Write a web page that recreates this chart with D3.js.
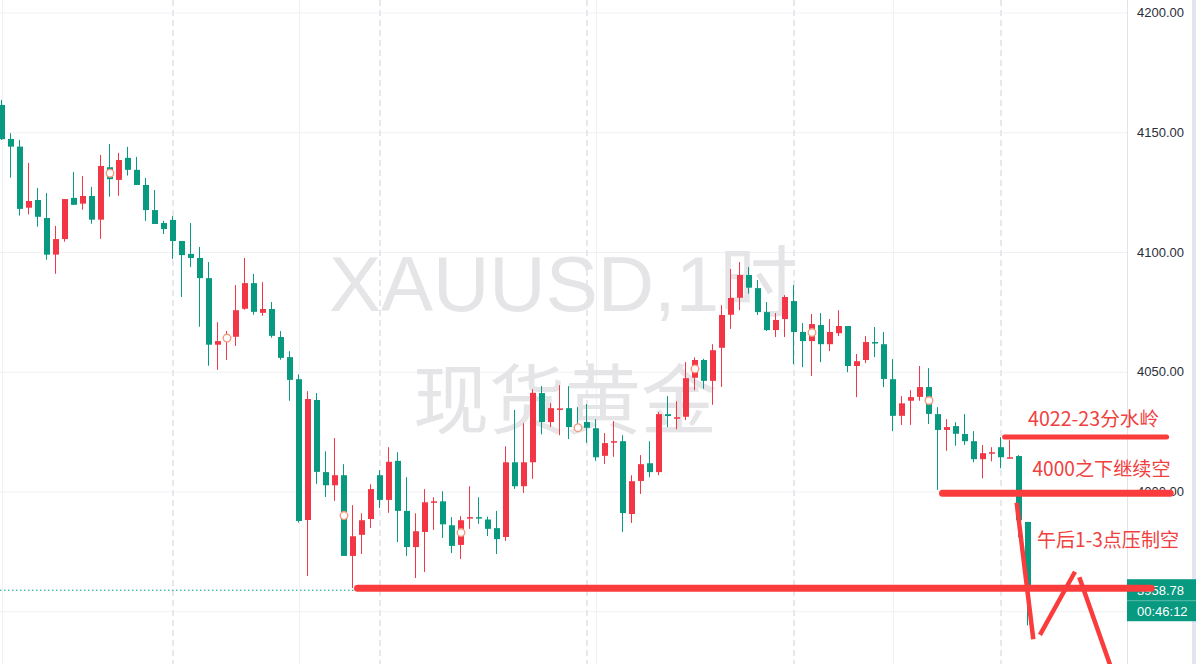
<!DOCTYPE html>
<html>
<head>
<meta charset="utf-8">
<script src="https://cdn.jsdelivr.net/npm/d3@7"></script>
<style>
  html, body { margin: 0; padding: 0; background: #fff; }
  svg { display: block; }
</style>
</head>
<body>
<svg id="chart"></svg>
<script>
const WIDTH = 1196;
const HEIGHT = 664;
const PLOT_RIGHT = 1127;

// XAUUSD 1h candles (oldest first)
const opens = [
  4161.4, 4147.2, 4144.0, 4118.5, 4121.7, 4114.2, 4098.9, 4105.4, 4122.6, 4120.2,
  4123.4, 4113.5, 4135.4, 4130.1, 4139.3, 4134.3, 4128.0, 4117.5, 4112.1, 4113.4,
  4104.6, 4099.2, 4097.5, 4089.1, 4061.3, 4062.8, 4064.6, 4076.3, 4087.0, 4074.6,
  4076.2, 4064.5, 4056.1, 4046.9, 3988.1, 4038.2, 4008.1, 4002.6, 4006.8, 3973.1,
  3981.9, 3988.5, 4006.8, 3996.5, 4012.8, 3991.9, 3976.8, 3983.1, 3995.5, 3995.9,
  3985.9, 3977.7, 3988.9, 3989.3, 3988.3, 3984.7, 3981.0, 4012.2, 4002.2, 4012.2,
  4041.1, 4029.0, 4034.4, 4034.8, 4027.7, 4029.0, 4026.4, 4014.9, 4020.7, 4021.0,
  3990.6, 4004.4, 4011.8, 4008.1, 4032.3, 4030.6, 4031.2, 4047.5, 4054.9, 4046.2,
  4060.0, 4073.8, 4080.9, 4090.4, 4084.9, 4074.9, 4067.4, 4072.0, 4079.5, 4066.6,
  4062.8, 4069.5, 4061.5, 4066.1, 4069.1, 4052.4, 4054.9, 4062.4, 4061.5, 4046.9,
  4031.6, 4037.9, 4039.5, 4043.6, 4032.3, 4025.7, 4027.3, 4024.0, 4021.0, 4013.5,
  4016.1, 4018.5, 4014.1, 4014.8, 3987.3
];
const highs = [
  4163.5, 4149.6, 4146.8, 4137.2, 4126.7, 4124.6, 4110.9, 4122.1, 4133.4, 4131.7,
  4127.2, 4140.5, 4145.1, 4141.4, 4143.9, 4139.7, 4130.9, 4125.9, 4113.0, 4115.0,
  4104.6, 4112.1, 4102.1, 4095.8, 4070.7, 4067.0, 4086.2, 4097.5, 4090.8, 4087.4,
  4079.1, 4067.0, 4058.6, 4048.9, 4041.9, 4041.1, 4016.8, 4022.3, 4011.4, 3994.3,
  3990.9, 4003.0, 4008.9, 4018.5, 4016.4, 4006.0, 3990.9, 4001.0, 3997.6, 4000.1,
  3989.3, 3989.7, 4002.2, 3997.6, 3989.5, 3991.9, 4018.9, 4034.0, 4028.5, 4042.7,
  4044.0, 4036.9, 4044.4, 4044.0, 4035.2, 4036.5, 4030.2, 4024.4, 4029.4, 4023.5,
  4006.8, 4015.2, 4021.0, 4033.1, 4039.8, 4037.7, 4054.0, 4056.0, 4055.4, 4061.5,
  4077.8, 4092.9, 4095.8, 4093.7, 4088.3, 4079.1, 4074.5, 4082.0, 4086.2, 4070.3,
  4074.1, 4074.5, 4072.0, 4075.7, 4069.1, 4057.4, 4064.9, 4068.7, 4066.6, 4055.3,
  4039.8, 4042.3, 4052.4, 4051.5, 4035.2, 4030.2, 4028.9, 4032.3, 4025.2, 4019.4,
  4018.5, 4022.7, 4021.4, 4015.2, 3987.3
];
const lows = [
  4146.8, 4131.0, 4115.2, 4115.7, 4110.6, 4096.8, 4090.9, 4104.3, 4119.7, 4117.7,
  4111.8, 4105.5, 4123.1, 4123.5, 4131.9, 4128.0, 4113.0, 4111.7, 4107.5, 4097.1,
  4081.2, 4093.7, 4068.8, 4052.5, 4050.8, 4054.9, 4060.8, 4075.9, 4073.8, 4073.4,
  4064.2, 4055.0, 4037.9, 3987.0, 3964.7, 4003.2, 3997.7, 3996.1, 3973.1, 3959.7,
  3973.9, 3984.8, 3993.1, 3991.1, 3978.9, 3973.1, 3963.9, 3966.4, 3984.0, 3980.6,
  3974.3, 3971.8, 3984.4, 3986.5, 3981.4, 3973.9, 3979.4, 4001.1, 3999.4, 4005.3,
  4023.9, 4026.9, 4023.5, 4021.9, 4024.8, 4020.3, 4012.8, 4011.5, 4014.5, 3983.1,
  3986.9, 3999.0, 4006.0, 4006.8, 4026.9, 4026.0, 4029.8, 4042.3, 4042.9, 4036.2,
  4043.7, 4067.9, 4075.7, 4082.6, 4073.7, 4067.0, 4064.5, 4064.5, 4053.2, 4051.9,
  4048.2, 4054.0, 4058.6, 4064.9, 4049.8, 4039.4, 4053.6, 4056.1, 4043.6, 4025.2,
  4027.8, 4027.8, 4037.9, 4028.2, 4000.7, 4017.0, 4019.1, 4019.5, 4012.2, 4005.5,
  4012.6, 4009.7, 4013.9, 3980.9, 3944.1
];
const closes = [
  4147.1, 4144.0, 4118.0, 4121.3, 4114.7, 4098.9, 4105.4, 4122.1, 4119.7, 4123.4,
  4113.5, 4135.9, 4130.4, 4138.4, 4134.3, 4128.0, 4117.5, 4111.7, 4109.6, 4104.6,
  4098.7, 4097.5, 4089.1, 4061.3, 4062.8, 4065.3, 4075.7, 4087.0, 4075.0, 4076.2,
  4065.0, 4055.8, 4046.6, 3987.7, 4038.6, 4008.2, 4002.6, 4006.8, 3973.1, 3981.3,
  3988.0, 4001.0, 3996.5, 4012.4, 3991.9, 3976.8, 3983.4, 3995.5, 3995.9, 3986.3,
  3977.3, 3988.0, 3989.3, 3988.9, 3984.4, 3980.1, 4012.2, 4002.2, 4012.2, 4041.2,
  4029.0, 4034.8, 4034.7, 4026.9, 4025.6, 4026.6, 4014.3, 4020.2, 4021.0, 3991.0,
  4004.3, 4011.4, 4008.1, 4032.3, 4031.5, 4031.0, 4047.3, 4054.9, 4046.2, 4059.0,
  4073.7, 4080.8, 4090.4, 4085.1, 4074.9, 4067.4, 4071.6, 4081.2, 4066.6, 4062.8,
  4069.9, 4061.5, 4066.6, 4069.1, 4052.4, 4054.4, 4062.4, 4061.8, 4047.0, 4031.6,
  4036.8, 4039.4, 4043.6, 4032.4, 4025.7, 4026.9, 4024.1, 4021.0, 4013.5, 4016.0,
  4016.4, 4014.3, 4014.3, 3988.0, 3958.78
];

const gridTicks = [3950, 4000, 4050, 4100, 4150, 4200];
const labelTicks = [4000, 4050, 4100, 4150, 4200]; // 3950 sits under the badge
const gridIdx = [0, 33, 66, 99];          // plain vertical grid lines
const dayIdx = [19, 42, 65, 88, 111];     // dashed session breaks
const markerIdx = [12, 25, 38, 51, 64, 77, 90, 103];
const lastPrice = 3958.78;
const countdown = "00:46:12";
const watermark = ["XAUUSD,1时", "现货黄金"];

// hand drawn notes, in candle index / price units
const levelLines = [
  { from: 39.5, to: 127.7, price: 3959.6, w: 7 },
  { from: 111.4, to: 129.4, price: 4022.8, w: 5 },
  { from: 104.5, to: 129.8, price: 3999.25, w: 7 }
];
const strokes = [
  [[112.74, 3995.3], [114.59, 3938.3]],
  [[115.33, 3940.1], [119.22, 3966.5]],
  [[119.7, 3964.2], [123.4, 3924.6]]
];
const notes = [
  { text: "4022-23分水岭", i: 114.0, price: 4027.3, len: 131 },
  { text: "4000之下继续空", i: 114.5, price: 4006.3, len: 138 },
  { text: "午后1-3点压制空", i: 115.0, price: 3976.9, len: 142 }
];

const UP = "#f23645";
const DOWN = "#089981";
const INK = "#fa3c3c";

const svg = d3.select("#chart").attr("width", WIDTH).attr("height", HEIGHT);

const x = d3.scaleLinear().domain([0, 114]).range([2, 1028]);
const y = d3.scaleLinear().domain([4000, 4200]).range([491.5, 12.5]);

const candles = opens.map((o, i) => ({
  i: i, o: o, h: highs[i], l: lows[i], c: closes[i]
}));

svg.append("rect").attr("width", WIDTH).attr("height", HEIGHT).attr("fill", "#fff");

// horizontal grid
svg
  .append("g")
  .call(d3.axisRight(y).tickValues(gridTicks).tickSize(PLOT_RIGHT).tickFormat(""))
  .call((g) => g.select(".domain").remove())
  .call((g) => g.selectAll("line").attr("stroke", "#f0f1f4"));

svg
  .append("g")
  .selectAll("line")
  .data(gridIdx)
  .join("line")
  .attr("x1", (d) => x(d) + 0.5)
  .attr("x2", (d) => x(d) + 0.5)
  .attr("y1", 0)
  .attr("y2", HEIGHT)
  .attr("stroke", "#f0f1f4");

svg
  .append("g")
  .selectAll("line")
  .data(dayIdx)
  .join("line")
  .attr("x1", (d) => x(d))
  .attr("x2", (d) => x(d))
  .attr("y1", 0)
  .attr("y2", HEIGHT)
  .attr("stroke", "#e6e8ed")
  .attr("stroke-width", 2)
  .attr("stroke-dasharray", "6,4");

// watermark
const wm = svg
  .append("g")
  .attr("fill", "#e5e5e8")
  .attr("text-anchor", "middle")
  .attr("font-family", "'Liberation Sans', 'Noto Sans CJK SC', sans-serif");
wm.append("text").attr("x", 563).attr("y", 311).attr("font-size", 78).text(watermark[0]);
wm.append("text")
  .attr("x", 565)
  .attr("y", 401)
  .attr("dy", "0.35em")
  .attr("font-size", 76)
  .attr("font-family", "'Noto Sans CJK SC', sans-serif")
  .text(watermark[1]);

// last price dotted line
svg
  .append("line")
  .attr("x1", 0)
  .attr("x2", PLOT_RIGHT)
  .attr("y1", y(lastPrice))
  .attr("y2", y(lastPrice))
  .attr("stroke", DOWN)
  .attr("stroke-dasharray", "1.5,2.5");

// candles
const cg = svg.append("g");
cg.selectAll("rect.wick")
  .data(candles)
  .join("rect")
  .attr("class", "wick")
  .attr("x", (d) => x(d.i) - 1)
  .attr("width", 1)
  .attr("y", (d) => y(d.h))
  .attr("height", (d) => Math.max(1, y(d.l) - y(d.h)))
  .attr("fill", (d) => (d.c >= d.o ? UP : DOWN));

cg.selectAll("rect.body")
  .data(candles)
  .join("rect")
  .attr("class", "body")
  .attr("x", (d) => x(d.i) - 3)
  .attr("width", 6)
  .attr("y", (d) => y(Math.max(d.o, d.c)))
  .attr("height", (d) => Math.max(1.5, Math.abs(y(d.o) - y(d.c))))
  .attr("fill", (d) => (d.c >= d.o ? UP : DOWN));

// little round markers
svg
  .append("g")
  .selectAll("circle")
  .data(markerIdx)
  .join("circle")
  .attr("cx", (d) => x(d))
  .attr("cy", (d) => y((opens[d] + closes[d]) / 2))
  .attr("r", 3.8)
  .attr("fill", "#fff")
  .attr("stroke", "#f59a7c")
  .attr("stroke-width", 1.4);

// price scale
svg
  .append("rect")
  .attr("x", PLOT_RIGHT)
  .attr("width", WIDTH - PLOT_RIGHT)
  .attr("height", HEIGHT)
  .attr("fill", "#fff");
svg
  .append("line")
  .attr("x1", PLOT_RIGHT + 0.5)
  .attr("x2", PLOT_RIGHT + 0.5)
  .attr("y1", 0)
  .attr("y2", HEIGHT)
  .attr("stroke", "#e0e3eb");
svg
  .append("rect")
  .attr("x", 1192)
  .attr("width", 4)
  .attr("height", HEIGHT)
  .attr("fill", "#e3e5ee");

svg
  .append("g")
  .attr("transform", `translate(${PLOT_RIGHT},0)`)
  .call(
    d3.axisRight(y).tickValues(labelTicks).tickSize(0).tickPadding(10)
      .tickFormat(d3.format(".2f"))
  )
  .call((g) => g.select(".domain").remove())
  .call((g) =>
    g.selectAll("text")
      .attr("fill", "#2a2e39")
      .attr("font-size", 13)
      .attr("font-family", "'Liberation Sans', Arial, sans-serif")
  );

// last price badge
const badgeY = y(lastPrice);
const badge = svg.append("g");
badge
  .append("rect")
  .attr("x", PLOT_RIGHT)
  .attr("y", badgeY - 11)
  .attr("width", WIDTH - PLOT_RIGHT)
  .attr("height", 42)
  .attr("fill", DOWN);
badge
  .append("line")
  .attr("x1", PLOT_RIGHT)
  .attr("x2", WIDTH)
  .attr("y1", badgeY + 10.5)
  .attr("y2", badgeY + 10.5)
  .attr("stroke", "rgba(255,255,255,0.35)");
badge
  .selectAll("text")
  .data([d3.format(".2f")(lastPrice), countdown])
  .join("text")
  .attr("x", PLOT_RIGHT + 10)
  .attr("y", (d, k) => badgeY + k * 21)
  .attr("dy", "0.35em")
  .attr("fill", "#fff")
  .attr("font-size", 13)
  .attr("font-family", "'Liberation Sans', Arial, sans-serif")
  .text((d) => d);

// drawings on top
const ink = svg.append("g");
ink.selectAll("line.level")
  .data(levelLines)
  .join("line")
  .attr("class", "level")
  .attr("x1", (d) => x(d.from))
  .attr("x2", (d) => x(d.to))
  .attr("y1", (d) => y(d.price))
  .attr("y2", (d) => y(d.price))
  .attr("stroke", INK)
  .attr("stroke-width", (d) => d.w)
  .attr("stroke-linecap", "round");

ink.selectAll("line.stroke")
  .data(strokes)
  .join("line")
  .attr("class", "stroke")
  .attr("x1", (d) => x(d[0][0]))
  .attr("y1", (d) => y(d[0][1]))
  .attr("x2", (d) => x(d[1][0]))
  .attr("y2", (d) => y(d[1][1]))
  .attr("stroke", INK)
  .attr("stroke-width", 4.5);

ink.selectAll("text")
  .data(notes)
  .join("text")
  .attr("x", (d) => x(d.i))
  .attr("y", (d) => y(d.price))
  .attr("fill", "#f04040")
  .attr("font-size", 19.5)
  .attr("font-family", "'Noto Sans CJK SC', sans-serif")
  .attr("textLength", (d) => d.len)
  .attr("lengthAdjust", "spacingAndGlyphs")
  .text((d) => d.text);
</script>
</body>
</html>
